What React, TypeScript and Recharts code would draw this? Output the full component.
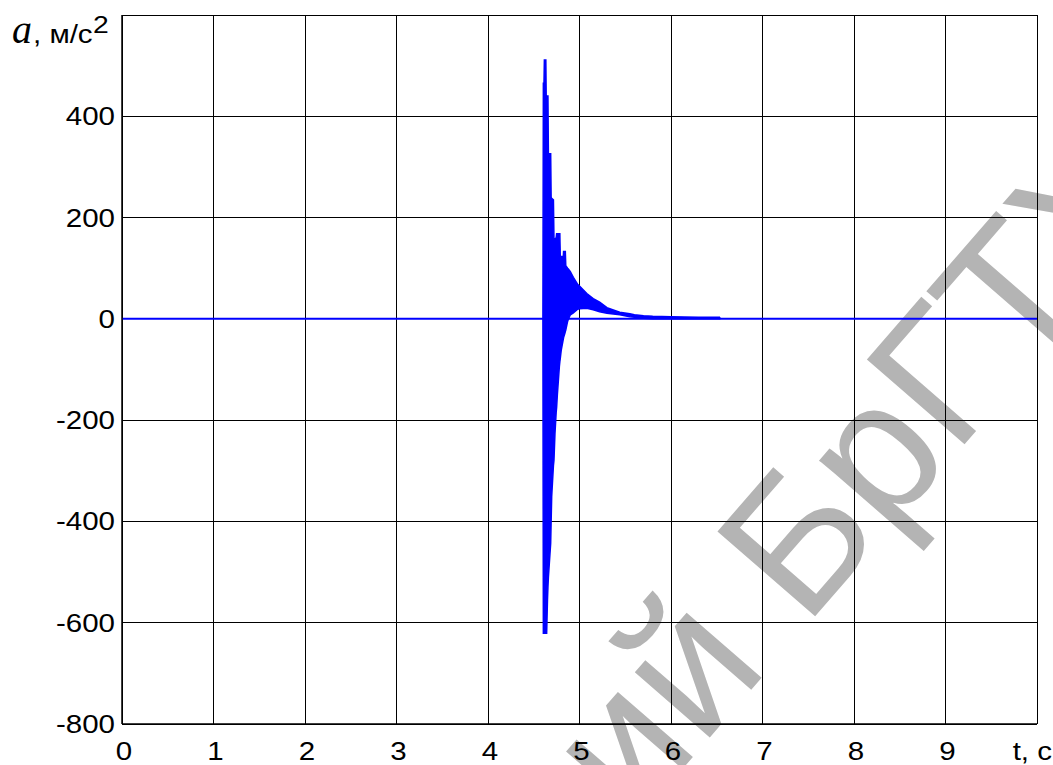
import React from 'react';
import { ComposedChart, Area, Line, XAxis, YAxis, CartesianGrid } from 'recharts';

const xTicks = [0, 1, 2, 3, 4, 5, 6, 7, 8, 9, 10];
const yTicks = [-800, -600, -400, -200, 0, 200, 400, 600];

const baselineT = [0, 10];
const baselineV = [0, 0];

const burstT = [
  4.6, 4.605, 4.612, 4.616, 4.632, 4.636, 4.641, 4.65, 4.655, 4.66, 4.663, 4.685, 4.69, 4.696,
  4.715, 4.721, 4.732, 4.745, 4.75, 4.758, 4.78, 4.785, 4.79, 4.801, 4.823, 4.826, 4.841, 4.845,
  4.85, 4.87, 4.88, 4.9, 4.933, 4.98, 5.0, 5.08, 5.15, 5.22, 5.3, 5.44, 5.55, 5.6, 5.7, 5.8, 6.0,
  6.3, 6.53, 6.54,
];
const burstUpper = [
  0, 465, 465, 511, 511, 440, 440, 440, 440, 326, 326, 326, 240, 238,
  235, 156, 158, 160, 168, 168, 168, 168, 123, 123, 123, 133, 133, 133,
  105, 100, 98, 93, 82, 68, 65, 50, 40, 33, 22, 13, 10, 8, 6, 5, 4,
  3, 3, 0,
];
const burstLower = [
  0, -621, -621, -621, -621, -621, -621, -555, -530, -510, -502, -443, -400, -351,
  -290, -279, -226, -185, -175, -150, -94, -85, -78, -61, -40, -37, -28, -25,
  -22, -5, 0, 8, 12, 19, 20, 21, 18, 14, 11, 8, 4, 3, 1, 0, 0,
  0, 0, 0,
];

const burstData = burstT.map((t, i) => ({ t, range: [burstLower[i], burstUpper[i]] }));
const baseData = baselineT.map((t, i) => ({ t, v: baselineV[i] }));

const SANS = "'Liberation Sans', Arial, Helvetica, sans-serif";
const SERIF = "'Liberation Serif', 'Times New Roman', serif";
const SX = 1.18;
const FS = 25;
const BLUE = '#0000ff';

const XTick = (props: any) => {
  const { x, y, payload } = props;
  if (payload.value === 10) {
    return (
      <text transform={`translate(${x + 15}, ${y + 36}) scale(${SX},1)`} textAnchor="end" fontFamily={SANS} fontSize={FS} fill="#000">
        t, c
      </text>
    );
  }
  return (
    <text transform={`translate(${x + 2}, ${y + 36}) scale(${SX},1)`} textAnchor="middle" fontFamily={SANS} fontSize={FS} fill="#000">
      {payload.value}
    </text>
  );
};

const YTick = (props: any) => {
  const { x, y, payload } = props;
  if (payload.value === 600) {
    return (
      <g transform={`translate(${x - 110}, ${y + 28})`}>
        <text x={0} y={0} fontFamily={SERIF} fontStyle="italic" fontSize={40} fill="#000">a</text>
        <text transform={`translate(21,0) scale(${SX},1)`} fontFamily={SANS} fontSize={FS} fill="#000">, м/с</text>
        <text transform={`translate(81,-10) scale(${SX},1)`} fontFamily={SANS} fontSize={FS - 1} fill="#000">2</text>
      </g>
    );
  }
  return (
    <text transform={`translate(${x - 7}, ${y + 9}) scale(${SX},1)`} textAnchor="end" fontFamily={SANS} fontSize={FS} fill="#000">
      {payload.value}
    </text>
  );
};

const Watermark = () => (
  <svg width={1053} height={765} style={{ position: 'absolute', left: 0, top: 0 }}>
    <g transform="translate(805,628) rotate(-49)" fontFamily={SANS} fontSize={188} fill="#b4b4b4">
      <text x={0} y={0} textAnchor="start">БрГТУ</text>
      <text x={-53} y={0} textAnchor="end">Репозиторий</text>
    </g>
  </svg>
);

export default function App() {
  return (
    <div style={{ position: 'absolute', left: 0, top: 0, width: 1053, height: 765, background: '#fff', overflow: 'hidden' }}>
      <Watermark />
      <div style={{ position: 'absolute', left: 0, top: 0 }}>
        <ComposedChart width={1053} height={765} margin={{ top: 15, right: 16, bottom: 0, left: 0 }}>
          <CartesianGrid stroke="#000" strokeWidth={1} shapeRendering="crispEdges" horizontalValues={yTicks} verticalValues={xTicks} />
          <XAxis
            dataKey="t"
            type="number"
            domain={[0, 10]}
            ticks={xTicks}
            allowDataOverflow
            height={41}
            tickSize={0}
            tickMargin={0}
            tickLine={false}
            axisLine={{ stroke: '#000', strokeWidth: 1.5 }}
            tick={<XTick />}
            interval={0}
          />
          <YAxis
            type="number"
            domain={[-800, 600]}
            ticks={yTicks}
            allowDataOverflow
            width={122}
            tickSize={0}
            tickMargin={0}
            tickLine={false}
            axisLine={{ stroke: '#000', strokeWidth: 1.5 }}
            tick={<YTick />}
            interval={0}
          />
          <Line data={baseData} dataKey="v" stroke={BLUE} strokeWidth={2} dot={false} isAnimationActive={false} />
          <Area data={burstData} dataKey="range" type="linear" stroke={BLUE} strokeWidth={1.5} fill={BLUE} fillOpacity={1} isAnimationActive={false} />
        </ComposedChart>
      </div>
    </div>
  );
}
